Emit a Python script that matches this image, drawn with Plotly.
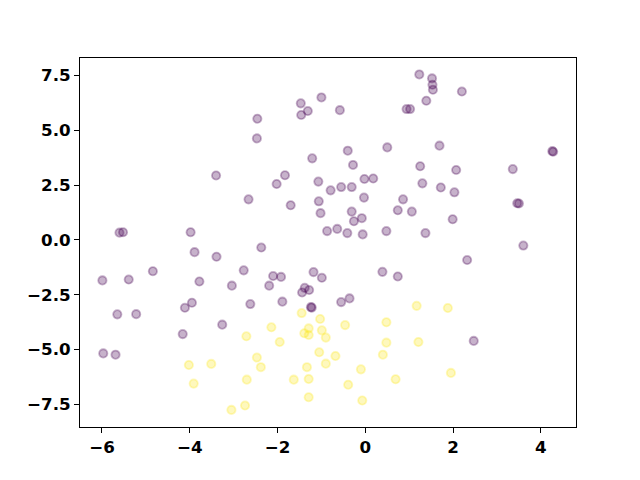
import plotly.graph_objects as go

# class 0 (purple) points
x0 = [-5.60, -5.52, -3.98, -3.40, -2.66,
      -1.00, -1.47, -1.31, -1.46, -0.58, -2.46, -2.47, 0.94, 1.02,
      -0.40, 0.50, -1.21, -0.28, -1.83, -2.02, -1.07, -0.02, 0.18, -0.79, -0.55, -0.31,
      -1.70, -1.06, -0.03, 0.86, 0.74, -1.02, -0.31, -0.08, -0.26, -0.87, -0.64, -0.41, -0.06, 0.48,
      1.23, 1.52, 1.53, 1.54, 2.20, 1.39, 1.69, 4.26, 4.28, 1.25, 2.07, 3.36, 1.30, 1.72, 2.03,
      1.06, 1.99, 3.46, 3.50, 1.37, 3.60,
      -3.89, -3.39, -2.77, -4.84, -5.99, -5.39, -3.78, -3.04, -3.95, -4.11, -2.62, -5.65, -5.22,
      -3.26, -4.16, -5.97, -5.69,
      -2.37, -2.10, -1.92, -1.18, -0.99, -2.19, -1.38, -1.44, -1.28, -1.89, -1.24, -1.22,
      -0.55, -0.36, 0.39, 0.74, 2.32, 2.47]
y0 = [0.33, 0.35, 0.35, 2.94, 1.85,
      6.50, 6.23, 5.88, 5.70, 5.92, 5.53, 4.63, 5.97, 5.97,
      4.07, 4.22, 3.72, 3.42, 2.95, 2.55, 2.66, 2.78, 2.80, 2.26, 2.41, 2.41,
      1.58, 1.76, 1.93, 1.85, 1.35, 1.22, 1.29, 0.99, 0.85, 0.40, 0.50, 0.31, 0.25, 0.40,
      7.55, 7.37, 7.08, 6.85, 6.77, 6.35, 4.30, 4.05, 4.02, 3.36, 3.19, 3.23, 2.58, 2.39, 2.17,
      1.29, 0.94, 1.67, 1.66, 0.31, -0.26,
      -0.56, -0.77, -1.39, -1.43, -1.85, -1.81, -1.90, -2.09, -2.87, -3.10, -2.93, -3.40, -3.39,
      -3.87, -4.30, -5.18, -5.24,
      -0.35, -1.65, -1.69, -1.47, -1.73, -2.09, -2.19, -2.40, -2.29, -2.82, -3.07, -3.09,
      -2.84, -2.67, -1.46, -1.67, -0.92, -4.61]

# class 1 (yellow) points
x1 = [-2.71, -4.02, -3.51, -3.91, -2.70, -3.05, -2.74,
      -1.45, -1.03, -2.14, -1.29, -1.39, -1.29, -0.99, -0.90, -0.46, -1.95, 0.48, 0.48, 0.40,
      -1.05, -0.68, -0.90, -2.47, -2.38, -1.33, -0.10, -1.63, -1.29, -0.39, 0.69, -1.29, -0.07,
      1.17, 1.88, 1.21, 1.95]
y1 = [-4.40, -5.71, -5.66, -6.56, -6.38, -7.76, -7.56,
      -3.34, -3.61, -3.99, -4.04, -4.26, -4.34, -4.13, -4.46, -3.89, -4.66, -3.76, -4.69, -5.24,
      -5.13, -5.30, -5.65, -5.37, -5.81, -5.81, -5.91, -6.38, -6.35, -6.61, -6.36, -7.18, -7.33,
      -3.01, -3.11, -4.66, -6.07]

x_ticks = [-6, -4, -2, 0, 2, 4]
y_ticks = [-7.5, -5.0, -2.5, 0.0, 2.5, 5.0, 7.5]
y_tick_labels = ["\u22127.5", "\u22125.0", "\u22122.5", "0.0", "2.5", "5.0", "7.5"]

fig = go.Figure()
for xs, ys, col in [(x0, y0, "rgba(68,1,84,0.3)"), (x1, y1, "rgba(253,231,37,0.3)")]:
    fig.add_trace(go.Scatter(
        x=xs, y=ys, mode="markers",
        marker=dict(size=8.3, color=col,
                    line=dict(color=col, width=1.8)),
        showlegend=False, hoverinfo="skip"))

axis_common = dict(showgrid=False, zeroline=False, showline=True, linecolor="black",
                   linewidth=1, mirror=True, ticks="outside", ticklen=5, tickwidth=1,
                   tickcolor="black",
                   tickfont=dict(family="DejaVu Sans", size=16.7, color="black", weight="bold"))
fig.update_xaxes(range=[-6.5, 4.8], tickvals=x_ticks, **axis_common)
fig.update_yaxes(range=[-8.54, 8.30], tickvals=y_ticks, ticktext=y_tick_labels, **axis_common)

fig.update_layout(width=640, height=480, autosize=False,
                  margin=dict(l=72, r=72, t=50, b=61),
                  plot_bgcolor="white", paper_bgcolor="white")
fig.write_html("out.html")
